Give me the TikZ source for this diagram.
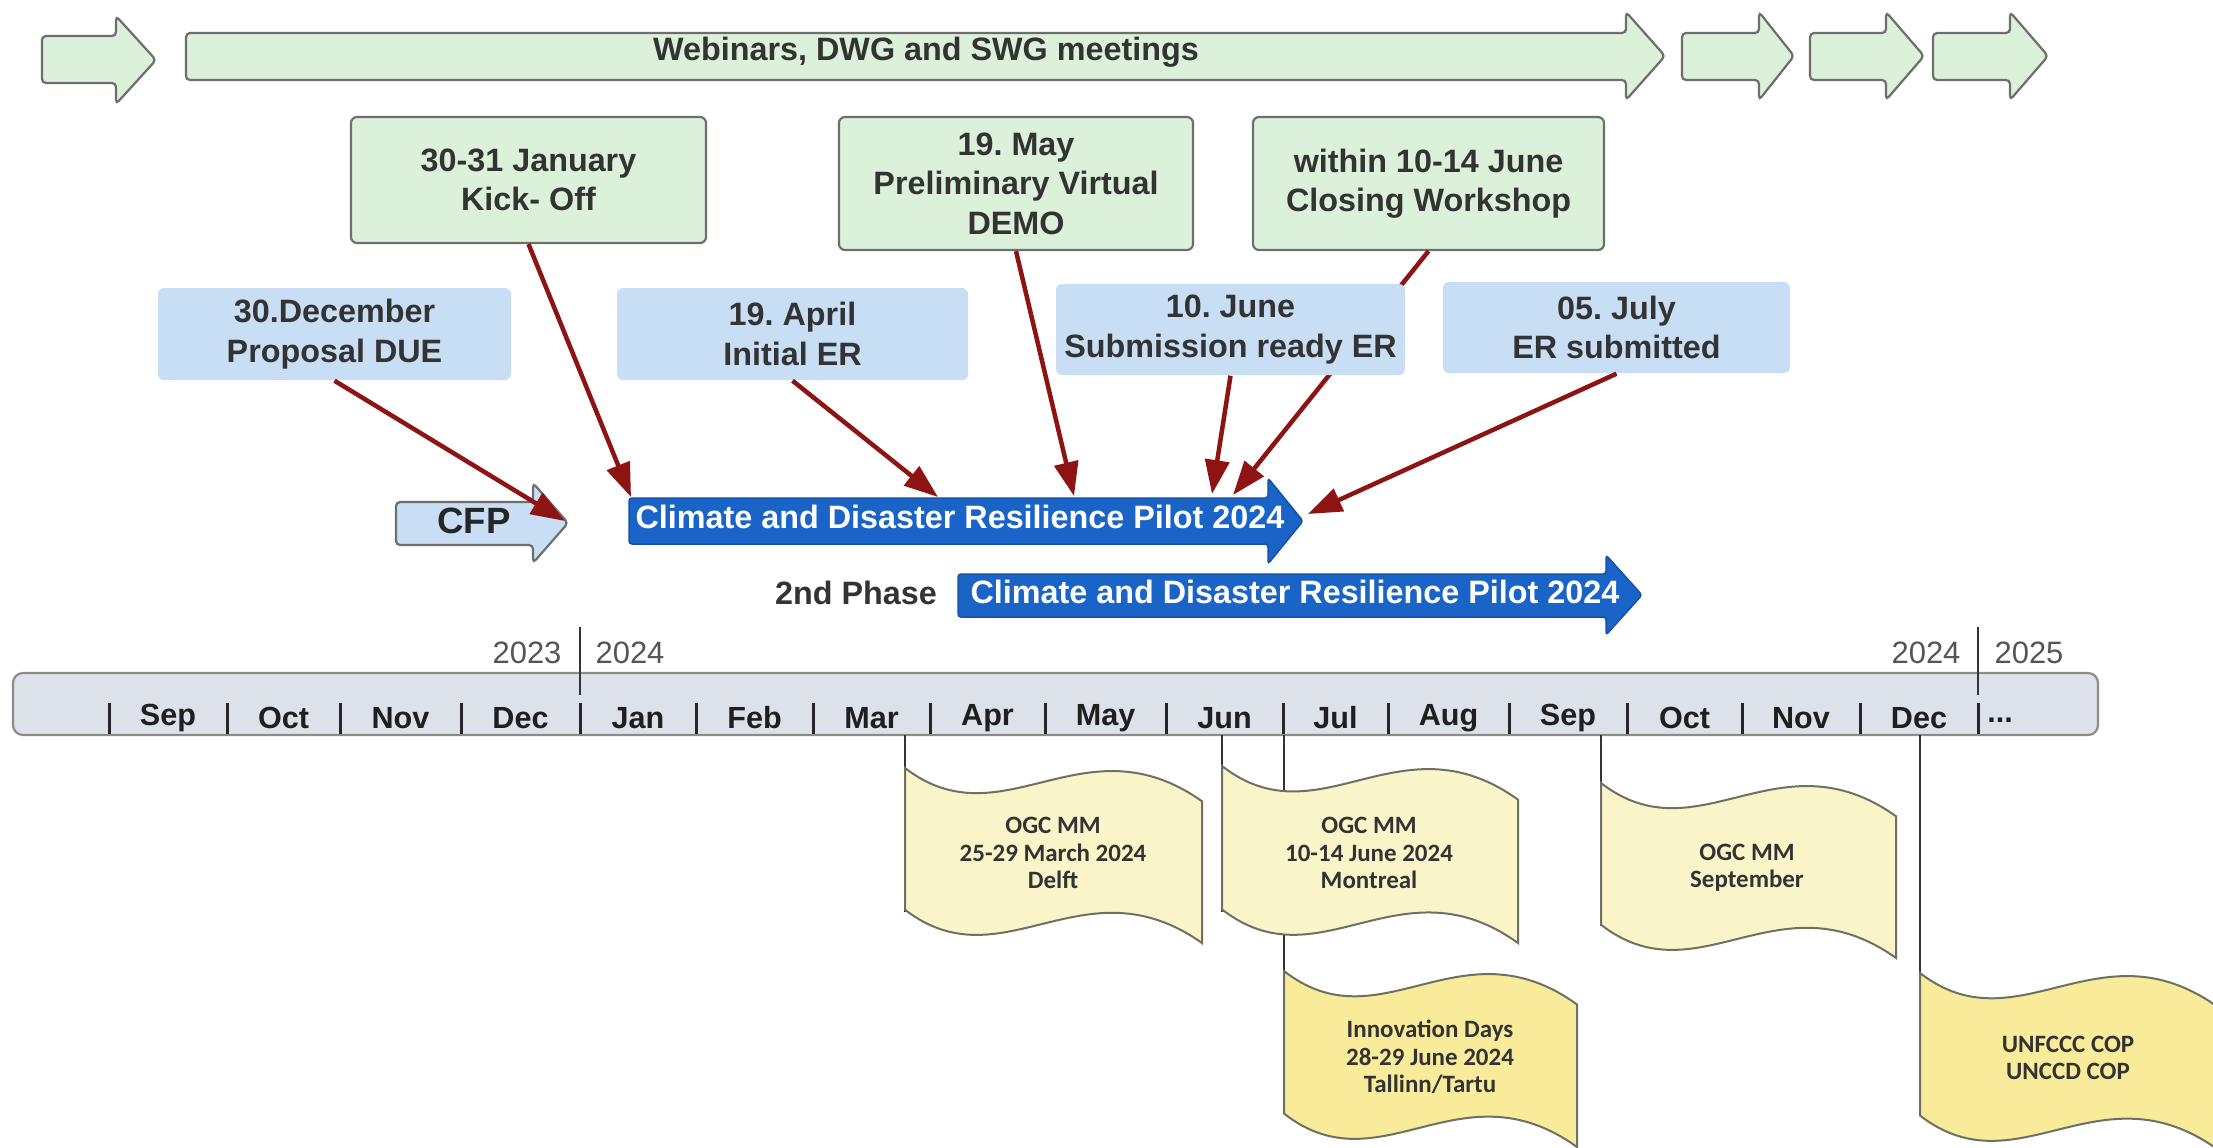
\documentclass[tikz,border=0pt]{standalone}
\usepackage{fontspec}
\setmainfont{Liberation Sans}
\newfontfamily\flagfont{Carlito}
\usetikzlibrary{arrows.meta}
\definecolor{gfill}{HTML}{DCF1D9}
\definecolor{gline}{HTML}{6E6E6E}
\definecolor{bfill}{HTML}{C8DEF4}
\definecolor{barrow}{HTML}{1B64C7}
\definecolor{barrowline}{HTML}{1452A8}
\definecolor{redc}{HTML}{8E1414}
\definecolor{barfill}{HTML}{DDE1E9}
\definecolor{barline}{HTML}{8C8C8C}
\definecolor{flagfill}{HTML}{FAF5C9}
\definecolor{flagfilltwo}{HTML}{F8EB9A}
\definecolor{flagline}{HTML}{707062}
\definecolor{txt}{HTML}{333333}
\definecolor{yeartxt}{HTML}{555555}
\frenchspacing
\newcommand\drawflag[5]{%
  \draw[#5] (#1,#2) .. controls ({#1+0.33*#3},{#2+0.43*#4}) and ({#1+0.6*#3},{#2-0.29*#4}) .. ({#1+#3},{#2+0.19*#4})
    -- ({#1+#3},{#2+#4}) .. controls ({#1+0.6*#3},{#2+0.52*#4}) and ({#1+0.33*#3},{#2+1.24*#4}) .. (#1,{#2+0.81*#4}) -- cycle;}
\newcommand\blockarrow[8]{% style, left, headbase, tip, bodytop, bodybottom, headtop, headbottom
  \draw[#1] (#2,#5) -- (#3,#5) -- (#3,#7) -- (#4,{(#7+#8)/2}) -- (#3,#8) -- (#3,#6) -- (#2,#6) -- cycle;}
\tikzset{
  mainfont/.style={font=\fontsize{9.2}{11.2}\selectfont\bfseries\frenchspacing},
  gbox/.style={mainfont, draw=gline, fill=gfill, rounded corners=0.6mm, line width=0.22mm,
    align=center, inner sep=0pt, text=txt},
  bbox/.style={mainfont, fill=bfill, rounded corners=0.6mm, align=center, inner sep=0pt, text=txt},
  garrow/.style={draw=gline, fill=gfill, line width=0.22mm, rounded corners=0.4mm},
  cfparrow/.style={draw=gline, fill=bfill, line width=0.22mm, rounded corners=0.4mm},
  barrowst/.style={draw=barrowline, fill=barrow, line width=0.15mm, rounded corners=0.3mm},
  arrowtext/.style={mainfont, text=white, inner sep=0pt},
  redarr/.style={draw=redc, line width=0.45mm, -{Triangle[length=3.4mm,width=2.4mm]}},
  month/.style={font=\fontsize{8.7}{10}\selectfont\bfseries, text=black!88, inner sep=0pt},
  yearlbl/.style={font=\fontsize{8.8}{10}\selectfont, text=yeartxt, inner sep=0pt},
  tick/.style={draw=black!85, line width=0.3mm},
  flagst/.style={draw=flagline, fill=flagfill, line width=0.2mm},
  flagsttwo/.style={draw=flagline, fill=flagfilltwo, line width=0.2mm},
  flagtext/.style={font=\flagfont\fontsize{7.1}{7.8}\selectfont\bfseries, text=txt, align=center, inner sep=0pt},
  pole/.style={draw=black!80, line width=0.22mm}
}
\begin{document}
\begin{tikzpicture}[x=0.1mm,y=-0.1mm]
\useasboundingbox[fill=white] (0,0) rectangle (2213,1147);

% top green arrows
\blockarrow{garrow}{42}{116}{156}{36}{83}{16}{104}
\blockarrow{garrow}{186}{1626}{1665}{33}{80}{12}{100}
\blockarrow{garrow}{1682}{1759}{1794}{33}{80}{12}{100}
\blockarrow{garrow}{1810}{1886}{1924}{33}{80}{12}{100}
\blockarrow{garrow}{1933}{2010}{2048}{33}{80}{12}{100}
\node[mainfont, text=txt, inner sep=0pt] (web) at (926,52) {Webinars, DWG and SWG meetings};

% green boxes
\node[gbox, minimum width=35.5mm, minimum height=12.6mm] (kick) at (528.5,180) {30-31 January\\Kick- Off};
\node[gbox, minimum width=35.4mm, minimum height=13.3mm] (demo) at (1016,183.5) {19. May\\Preliminary Virtual\\DEMO};
\node[gbox, minimum width=35.1mm, minimum height=13.3mm] (close) at (1428.5,183.5) {within 10-14 June\\Closing Workshop};

% connector hidden behind the blue box
\coordinate (t_close) at (1233,495);
\draw[redarr] (close.south) -- (t_close);

% blue boxes
\node[bbox, minimum width=35.3mm, minimum height=9.2mm] (prop) at (334.5,334) {30.December\\Proposal DUE};
\node[bbox, minimum width=35.1mm, minimum height=9.2mm] (initer) at (792.5,334) {19. April\\Initial ER};
\node[bbox, minimum width=34.9mm, minimum height=9.1mm] (subm) at (1230.5,329.5) {10. June\\Submission ready ER};
\node[bbox, minimum width=34.7mm, minimum height=9.1mm] (ersub) at (1616.5,327.5) {05. July\\ER submitted};

% CFP arrow
\blockarrow{cfparrow}{396}{533}{568}{502}{545}{483}{563}
\node[font=\fontsize{10.4}{12}\selectfont\bfseries, text=black!85, inner sep=0pt] (cfp) at (474,521) {CFP};

% blue pilot arrows
\blockarrow{barrowst}{629}{1268}{1303}{498}{544}{478}{564}
\node[arrowtext] (pilot) at (960,517) {Climate and Disaster Resilience Pilot 2024};
\blockarrow{barrowst}{958}{1606}{1642}{574}{617}{555}{635}
\node[arrowtext] (pilot2) at (1295,592) {Climate and Disaster Resilience Pilot 2024};
\node[mainfont, text=txt, inner sep=0pt] (phase) at (856,593) {2nd Phase};

% red connectors
\coordinate (t_cfp) at (565,521);
\coordinate (t_kick) at (631,497);
\coordinate (t_init) at (938,497);
\coordinate (t_demo) at (1074,496);
\coordinate (t_subm) at (1212,494);
\coordinate (t_ersub) at (1308,514);
\draw[redarr] (prop.south) -- (t_cfp);
\draw[redarr] (kick.south) -- (t_kick);
\draw[redarr] (initer.south) -- (t_init);
\draw[redarr] (demo.south) -- (t_demo);
\draw[redarr] (subm.south) -- (t_subm);
\draw[redarr] (ersub.south) -- (t_ersub);

% timeline bar
\draw[draw=barline, fill=barfill, line width=0.22mm, rounded corners=1mm] (13,673) rectangle (2098,735);
\foreach \x in {109,227,340,461,580,696,813,930,1045,1166,1283,1388,1509,1627,1742,1860,1978}
  \draw[tick] (\x,703) -- (\x,734);
\draw[draw=black!80, line width=0.2mm] (580,627) -- (580,695);
\draw[draw=black!80, line width=0.2mm] (1978,627) -- (1978,695);
\node[yearlbl] (y23) at (527,653) {2023};
\node[yearlbl] (y24) at (630,653) {2024};
\node[yearlbl] (y24b) at (1926,653) {2024};
\node[yearlbl] (y25) at (2029,653) {2025};
\foreach \m/\x in {Sep/168,Oct/283.5,Nov/400.5,Dec/520.5,Jan/638,Feb/754.5,Mar/871.5,Apr/987.5,May/1105.5,Jun/1224.5,Jul/1335.5,Aug/1448.5,Sep/1568,Oct/1684.5,Nov/1801,Dec/1919}
  \node[month] at (\x,718) {\m};
\node[month] (dots) at (2000,720) {...};

% poles
\draw[pole] (905,735) -- (905,912);
\draw[pole] (1222,735) -- (1222,912);
\draw[pole] (1284,735) -- (1284,1114);
\draw[pole] (1601,735) -- (1601,926);
\draw[pole] (1920,735) -- (1920,1116);

% flags
\drawflag{905}{768}{297}{175}{flagst}
\drawflag{1222}{766}{296}{177}{flagst}
\drawflag{1601}{783}{295}{175}{flagst}
\drawflag{1284}{971}{293}{176}{flagsttwo}
\drawflag{1920}{973}{297}{176}{flagsttwo}
\node[flagtext] (f1) at (1053,853) {OGC MM\\25-29 March 2024\\Delft};
\node[flagtext] (f2) at (1369,853) {OGC MM\\10-14 June 2024\\Montreal};
\node[flagtext] (f3) at (1747,868) {OGC MM\\September};
\node[flagtext] (f4) at (1430,1057) {Innovation Days\\28-29 June 2024\\Tallinn/Tartu};
\node[flagtext] (f5) at (2068,1058) {UNFCCC COP\\UNCCD COP};
\end{tikzpicture}
\end{document}
